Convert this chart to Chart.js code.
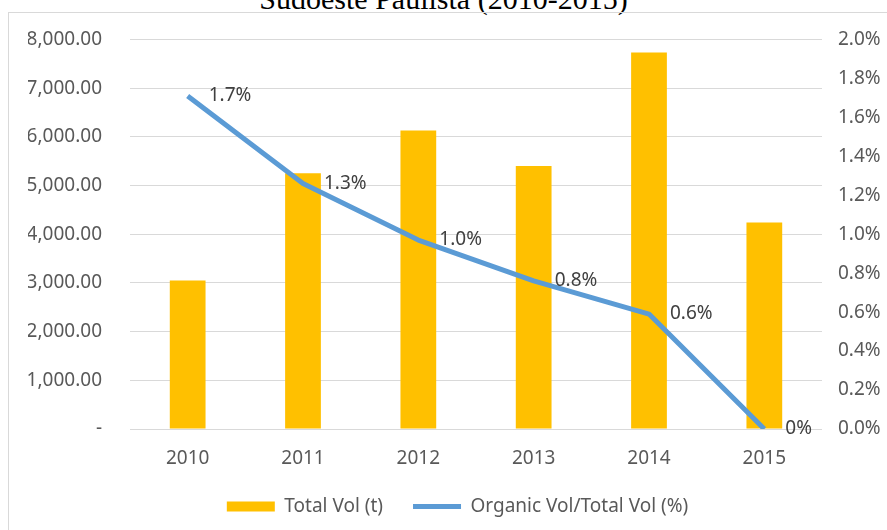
<!DOCTYPE html>
<html>
<head>
<meta charset="utf-8">
<script src="https://cdn.jsdelivr.net/npm/chart.js@4.4.1/dist/chart.umd.min.js"></script>
<style>
  html, body { margin: 0; padding: 0; background: #fff; overflow: hidden; }
  #wrap { position: relative; width: 887px; height: 530px; overflow: hidden; }
  #title {
    position: absolute; left: 0; top: -15px; width: 887px; text-align: center;
    font: 30px/28px "Liberation Serif", "Times New Roman", serif; color: #000;
  }
  #frame {
    position: absolute; left: 8px; top: 12px; width: 1000px; height: 1000px;
    border: 1px solid #d9d9d9;
  }
  #chart { position: absolute; left: 0; top: 0; }
</style>
</head>
<body>
<div id="wrap">
  <div id="title">Sudoeste Paulista (2010-2015)</div>
  <div id="frame"></div>
  <canvas id="chart" width="887" height="530"></canvas>
</div>
<script>
// values
const years = ['2010', '2011', '2012', '2013', '2014', '2015'];
const totalVol = [3050, 5250, 6130, 5400, 7730, 4240];      // t, left axis
const organicShare = [1.71, 1.26, 0.97, 0.76, 0.59, 0];     // %, right axis

const textFont = '"Noto Sans", "DejaVu Sans", sans-serif';
const grey = '#595959';

// labels next to the line points (1.7%, 1.3% ... 0%)
const pointLabels = {
  id: 'pointLabels',
  afterDatasetsDraw(chart) {
    const meta = chart.getDatasetMeta(0); // the line dataset
    const ctx = chart.ctx;
    ctx.save();
    ctx.font = '19px ' + textFont;
    ctx.fillStyle = '#404040';
    ctx.textAlign = 'left';
    ctx.textBaseline = 'middle';
    meta.data.forEach((pt, i) => {
      const v = organicShare[i];
      const txt = v === 0 ? '0%' : v.toFixed(1) + '%';
      ctx.fillText(txt, pt.x + 21, pt.y);
    });
    ctx.restore();
  }
};

const ctx = document.getElementById('chart').getContext('2d');
new Chart(ctx, {
  type: 'bar',
  data: {
    labels: years,
    datasets: [
      {
        type: 'line',
        label: 'Organic Vol/Total Vol (%)',
        data: organicShare,
        yAxisID: 'y1',
        borderColor: '#5B9BD5',
        backgroundColor: '#5B9BD5',
        borderWidth: 5,
        pointRadius: 0,
        pointStyle: 'line',
        tension: 0,
        borderJoinStyle: 'round',
        order: 0
      },
      {
        label: 'Total Vol (t)',
        data: totalVol,
        yAxisID: 'y',
        backgroundColor: '#FFC000',
        borderWidth: 0,
        pointStyle: 'rect',
        barPercentage: 0.31,
        categoryPercentage: 1,
        order: 1
      }
    ]
  },
  options: {
    responsive: false,
    animation: false,
    // left padding only shifts the legend; the y axis width is trimmed to match
    layout: { padding: { top: 37, bottom: 4, left: 28, right: 0 } },
    plugins: {
      tooltip: { enabled: false },
      legend: {
        position: 'bottom',
        reverse: true,
        labels: {
          usePointStyle: true,
          pointStyleWidth: 48,
          boxHeight: 10,
          padding: 30,
          color: grey,
          font: { family: textFont, size: 19 }
        }
      }
    },
    scales: {
      x: {
        grid: { display: false },
        border: { display: false },
        ticks: { color: grey, padding: 10, font: { family: textFont, size: 19 } },
        afterFit(scale) { scale.height = 38; }
      },
      y: {
        position: 'left',
        min: 0,
        max: 8000,
        grid: { color: '#d9d9d9', drawTicks: false },
        border: { display: false },
        ticks: {
          stepSize: 1000,
          padding: 28,
          color: grey,
          font: { family: textFont, size: 19 },
          callback: (v) => v === 0 ? '-' : v.toLocaleString('en-US', { minimumFractionDigits: 2, maximumFractionDigits: 2 })
        },
        afterFit(scale) { scale.width = 102; }
      },
      y1: {
        position: 'right',
        min: 0,
        max: 2,
        grid: { display: false, drawTicks: false },
        border: { display: false },
        ticks: {
          stepSize: 0.2,
          padding: 16,
          color: grey,
          font: { family: textFont, size: 19 },
          callback: (v) => v.toFixed(1) + '%'
        },
        afterFit(scale) { scale.width = 65; }
      }
    }
  },
  plugins: [pointLabels]
});
</script>
</body>
</html>
